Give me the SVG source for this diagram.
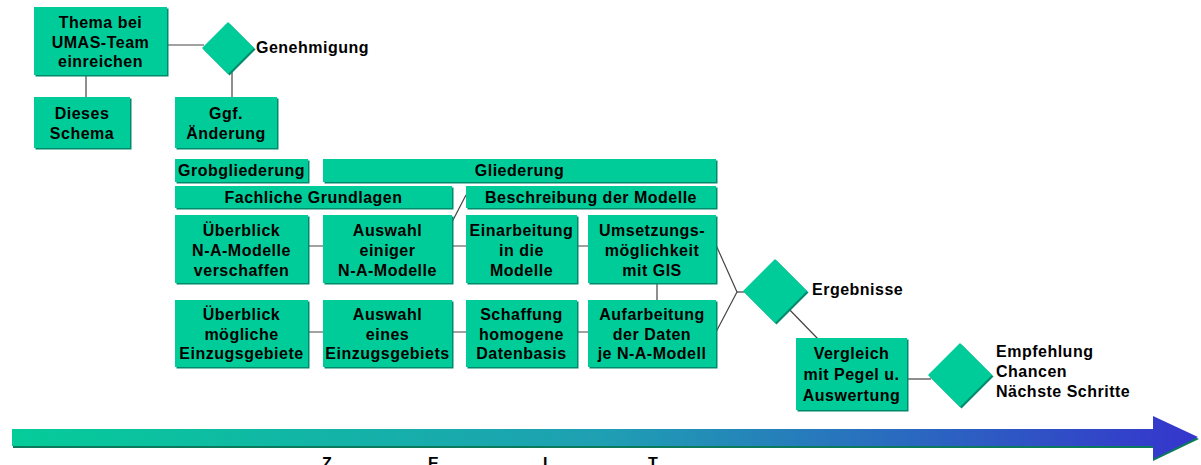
<svg xmlns="http://www.w3.org/2000/svg" width="1201" height="465" viewBox="0 0 1201 465">
<defs>
<style>
.bx{fill:#00CC99}
.sh{fill:#00896a}
.t{font-family:"Liberation Sans",Arial,Helvetica,sans-serif;font-weight:bold;font-size:16px;letter-spacing:0.5px;fill:#000;text-anchor:middle}
.l{font-family:"Liberation Sans",Arial,Helvetica,sans-serif;font-weight:bold;font-size:16px;letter-spacing:0.5px;fill:#000}
.c{stroke:#444;stroke-width:1.2;fill:none}
</style>
<linearGradient id="ag" x1="0" y1="0" x2="1" y2="0">
<stop offset="0" stop-color="#05CC99"/>
<stop offset="0.5" stop-color="#1f9fb3"/>
<stop offset="1" stop-color="#3535CC"/>
</linearGradient>
</defs>
<rect width="1201" height="465" fill="#fff"/>

<g id="connectors">
<path class="c" d="M167 45 H204"/>
<path class="c" d="M86 75 V97"/>
<path class="c" d="M232 68 V97"/>
<path class="c" d="M308 246 H323 M452 246 H466 M577 246 H588"/>
<path class="c" d="M308 332 H323 M452 332 H466 M577 332 H588"/>
<path class="c" d="M452 222 L466 195"/>
<path class="c" d="M657 283 V300"/>
<path class="c" d="M716 245 L737 292 L716 332"/>
<path class="c" d="M737 292 H746"/>
<path class="c" d="M785 305 L818 339"/>
<path class="c" d="M907 379 H931"/>
</g>

<g id="zeitpfeil">
<polygon points="13,431 1153,431 1153,418 1199,439 1153,461 1153,448 13,448" fill="#0b7a5c"/>
<polygon points="12,429 1153,429 1153,416 1198,437 1153,459 1153,446 12,446" fill="url(#ag)"/>
</g>

<g id="thema">
<rect class="sh" x="35.5" y="8.5" width="133" height="68"/>
<rect class="bx" x="34" y="7" width="133" height="68"/>
<text class="t" x="100.5" y="28">Thema bei</text>
<text class="t" x="100.5" y="47.5">UMAS-Team</text>
<text class="t" x="100.5" y="67">einreichen</text>
</g>
<g id="genehmigung">
<polygon class="sh" points="229.5,23.5 255.5,49.5 229.5,75.5 203.5,49.5"/>
<polygon class="bx" points="228,22 254,48 228,74 202,48"/>
<text class="l" x="256" y="53">Genehmigung</text>
</g>
<g id="dieses">
<rect class="sh" x="35.5" y="98.5" width="96" height="51"/>
<rect class="bx" x="34" y="97" width="96" height="51"/>
<text class="t" x="82" y="119">Dieses</text>
<text class="t" x="82" y="139">Schema</text>
</g>
<g id="ggf">
<rect class="sh" x="176.5" y="98.5" width="102" height="51"/>
<rect class="bx" x="175" y="97" width="102" height="51"/>
<text class="t" x="226" y="119">Ggf.</text>
<text class="t" x="226" y="139">Änderung</text>
</g>
<g id="grob">
<rect class="sh" x="176.5" y="160.5" width="133" height="23"/>
<rect class="bx" x="175" y="159" width="133" height="23"/>
<text class="t" x="241.5" y="176">Grobgliederung</text>
</g>
<g id="gliederung">
<rect class="sh" x="324.5" y="160.5" width="393" height="23"/>
<rect class="bx" x="323" y="159" width="393" height="23"/>
<text class="t" x="519.5" y="176">Gliederung</text>
</g>
<g id="fachlich">
<rect class="sh" x="176.5" y="187.5" width="277" height="22"/>
<rect class="bx" x="175" y="186" width="277" height="22"/>
<text class="t" x="313.5" y="203">Fachliche Grundlagen</text>
</g>
<g id="beschreibung">
<rect class="sh" x="467.5" y="187.5" width="250" height="22"/>
<rect class="bx" x="466" y="186" width="250" height="22"/>
<text class="t" x="591" y="203">Beschreibung der Modelle</text>
</g>

<g id="ueberblick1">
<rect class="sh" x="176.5" y="216.5" width="133" height="68"/>
<rect class="bx" x="175" y="215" width="133" height="68"/>
<text class="t" x="241.5" y="236">Überblick</text>
<text class="t" x="241.5" y="256">N-A-Modelle</text>
<text class="t" x="241.5" y="276">verschaffen</text>
</g>
<g id="auswahl1">
<rect class="sh" x="324.5" y="216.5" width="129" height="68"/>
<rect class="bx" x="323" y="215" width="129" height="68"/>
<text class="t" x="387.5" y="236">Auswahl</text>
<text class="t" x="387.5" y="256">einiger</text>
<text class="t" x="387.5" y="276">N-A-Modelle</text>
</g>
<g id="einarbeitung">
<rect class="sh" x="467.5" y="216.5" width="111" height="68"/>
<rect class="bx" x="466" y="215" width="111" height="68"/>
<text class="t" x="521.5" y="236">Einarbeitung</text>
<text class="t" x="521.5" y="256">in die</text>
<text class="t" x="521.5" y="276">Modelle</text>
</g>
<g id="umsetzung">
<rect class="sh" x="589.5" y="216.5" width="128" height="68"/>
<rect class="bx" x="588" y="215" width="128" height="68"/>
<text class="t" x="652" y="236">Umsetzungs-</text>
<text class="t" x="652" y="256">möglichkeit</text>
<text class="t" x="652" y="276">mit GIS</text>
</g>

<g id="ueberblick2">
<rect class="sh" x="176.5" y="301.5" width="133" height="67"/>
<rect class="bx" x="175" y="300" width="133" height="67"/>
<text class="t" x="241.5" y="320">Überblick</text>
<text class="t" x="241.5" y="339.5">mögliche</text>
<text class="t" x="241.5" y="359">Einzugsgebiete</text>
</g>
<g id="auswahl2">
<rect class="sh" x="324.5" y="301.5" width="129" height="67"/>
<rect class="bx" x="323" y="300" width="129" height="67"/>
<text class="t" x="387.5" y="320">Auswahl</text>
<text class="t" x="387.5" y="339.5">eines</text>
<text class="t" x="387.5" y="359">Einzugsgebiets</text>
</g>
<g id="schaffung">
<rect class="sh" x="467.5" y="301.5" width="111" height="67"/>
<rect class="bx" x="466" y="300" width="111" height="67"/>
<text class="t" x="521.5" y="320">Schaffung</text>
<text class="t" x="521.5" y="339.5">homogene</text>
<text class="t" x="521.5" y="359">Datenbasis</text>
</g>
<g id="aufarbeitung">
<rect class="sh" x="589.5" y="301.5" width="128" height="67"/>
<rect class="bx" x="588" y="300" width="128" height="67"/>
<text class="t" x="652" y="320">Aufarbeitung</text>
<text class="t" x="652" y="339.5">der Daten</text>
<text class="t" x="652" y="359">je N-A-Modell</text>
</g>

<g id="ergebnisse">
<polygon class="sh" points="776.5,260.5 808.5,292.5 776.5,324.5 744.5,292.5"/>
<polygon class="bx" points="775,259 807,291 775,323 743,291"/>
<text class="l" x="812" y="295">Ergebnisse</text>
</g>
<g id="vergleich">
<rect class="sh" x="797.5" y="339.5" width="111" height="72"/>
<rect class="bx" x="796" y="338" width="111" height="72"/>
<text class="t" x="851.5" y="359">Vergleich</text>
<text class="t" x="851.5" y="380">mit Pegel u.</text>
<text class="t" x="851.5" y="401">Auswertung</text>
</g>
<g id="empfehlung">
<polygon class="sh" points="961.5,344.5 993.5,376.5 961.5,408.5 929.5,376.5"/>
<polygon class="bx" points="960,343 992,375 960,407 928,375"/>
<text class="l" x="996" y="357">Empfehlung</text>
<text class="l" x="996" y="377">Chancen</text>
<text class="l" x="996" y="397">Nächste Schritte</text>
</g>

<g id="zeit">
<text class="l" x="322" y="469">Z</text>
<text class="l" x="428" y="469">E</text>
<text class="l" x="543" y="469">I</text>
<text class="l" x="648" y="469">T</text>
</g>
</svg>
